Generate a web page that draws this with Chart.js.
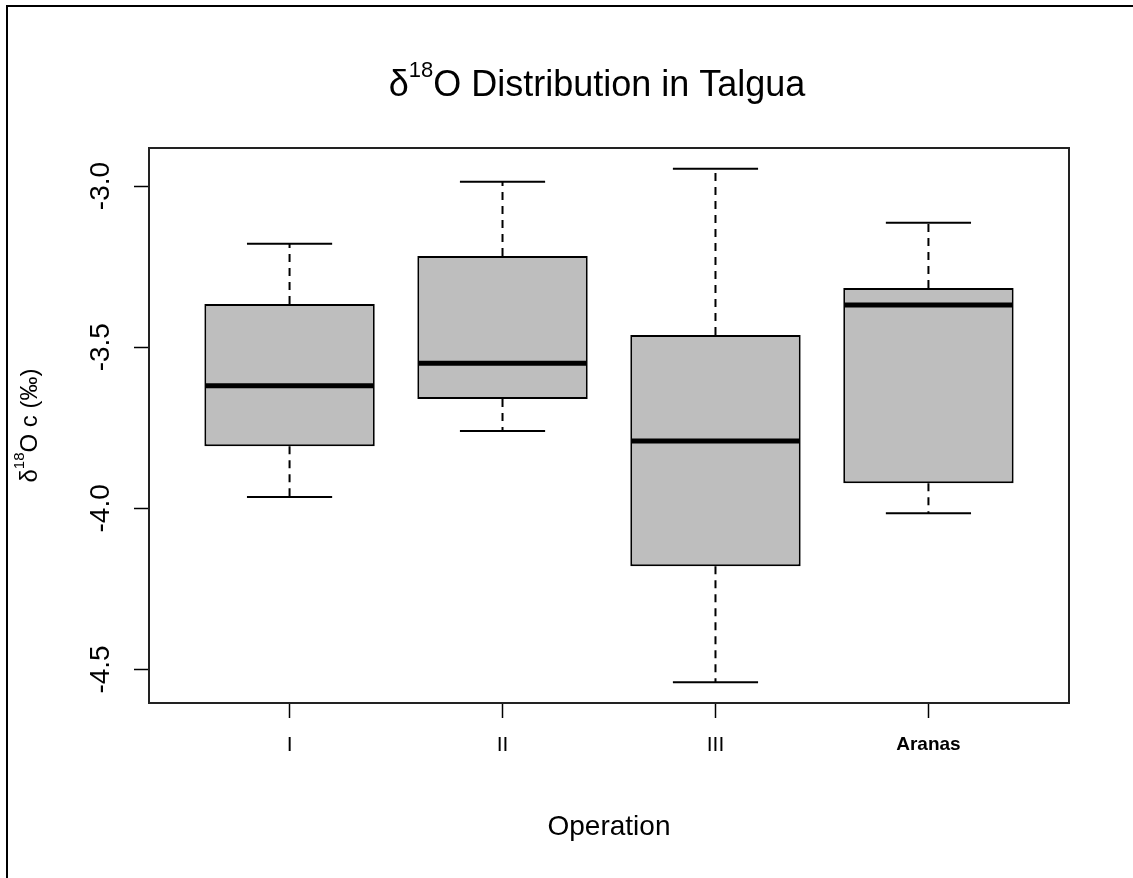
<!DOCTYPE html>
<html>
<head>
<meta charset="utf-8">
<title>δ18O Distribution in Talgua</title>
<script src="https://cdn.jsdelivr.net/npm/chart.js@4.4.0/dist/chart.umd.min.js"></script>
<style>
  html, body { margin: 0; padding: 0; background: #fff; }
  #wrap { width: 1133px; height: 878px; }
  canvas { display: block; }
</style>
</head>
<body>
<div id="wrap"><canvas id="chart" width="1133" height="878"></canvas></div>
<script>
// Five-number summaries of δ18O (‰) per excavation operation
const operations   = ['I', 'II', 'III', 'Aranas'];
const positions    = [1, 2, 3, 4];
const whiskerHigh  = [-3.179, -2.987, -2.946, -3.114];
const upperQuart   = [-3.366, -3.217, -3.462, -3.316];
const medians      = [-3.620, -3.550, -3.791, -3.369];
const lowerQuart   = [-3.807, -3.661, -4.180, -3.922];
const whiskerLow   = [-3.965, -3.760, -4.540, -4.015];

// Axis setup
const yTicks  = [-4.5, -4.0, -3.5, -3.0];
const yLimits = [-4.604, -2.882];
const xLimits = [0.34, 4.66];

// Text (superscripts marked with sup:true)
const titleParts  = [{ t: 'δ' }, { t: '18', sup: true }, { t: 'O Distribution in Talgua' }];
const yTitleParts = [{ t: 'δ' }, { t: '18', sup: true }, { t: 'O c (‰)' }];
const xTitle = 'Operation';

const FAMILY = "'Liberation Sans', Arial, sans-serif";

function drawRich(ctx, parts, size, cx, cy) {
  const supSize = Math.round(size * 0.62);
  let total = 0;
  const widths = parts.map(p => {
    ctx.font = (p.sup ? supSize : size) + 'px ' + FAMILY;
    const w = ctx.measureText(p.t).width;
    total += w;
    return w;
  });
  let x = cx - total / 2;
  ctx.textBaseline = 'middle';
  ctx.textAlign = 'left';
  parts.forEach((p, i) => {
    ctx.font = (p.sup ? supSize : size) + 'px ' + FAMILY;
    ctx.fillText(p.t, x, p.sup ? cy - size * 0.42 : cy);
    x += widths[i];
  });
}

const decorations = {
  id: 'decorations',
  beforeDraw(chart) {
    const ctx = chart.ctx;
    ctx.save();
    ctx.fillStyle = '#fff';
    ctx.fillRect(0, 0, chart.width, chart.height);
    // outer frame (top and left edges)
    ctx.strokeStyle = '#000';
    ctx.lineWidth = 2;
    ctx.beginPath();
    ctx.moveTo(7, chart.height);
    ctx.lineTo(7, 6);
    ctx.lineTo(chart.width, 6);
    ctx.stroke();
    ctx.restore();
  },
  afterDatasetsDraw(chart) {
    const ctx = chart.ctx;
    const xs = chart.scales.x, ys = chart.scales.y;
    ctx.save();
    ctx.strokeStyle = '#000';
    positions.forEach((p, i) => {
      const xc = xs.getPixelForValue(p);
      const boxHalf = xs.getPixelForValue(p + 0.4) - xc;
      const capHalf = xs.getPixelForValue(p + 0.2) - xc;
      const yHi = ys.getPixelForValue(whiskerHigh[i]);
      const yQ3 = ys.getPixelForValue(upperQuart[i]);
      const yMed = ys.getPixelForValue(medians[i]);
      const yQ1 = ys.getPixelForValue(lowerQuart[i]);
      const yLo = ys.getPixelForValue(whiskerLow[i]);
      // dashed whiskers
      ctx.lineWidth = 2;
      ctx.setLineDash([8, 6]);
      ctx.beginPath();
      ctx.moveTo(xc, yQ3); ctx.lineTo(xc, yHi);
      ctx.moveTo(xc, yQ1); ctx.lineTo(xc, yLo);
      ctx.stroke();
      // whisker caps
      ctx.setLineDash([]);
      ctx.beginPath();
      ctx.moveTo(xc - capHalf, yHi); ctx.lineTo(xc + capHalf, yHi);
      ctx.moveTo(xc - capHalf, yLo); ctx.lineTo(xc + capHalf, yLo);
      ctx.stroke();
      // median
      ctx.lineWidth = 5;
      ctx.beginPath();
      ctx.moveTo(xc - boxHalf + 1, yMed); ctx.lineTo(xc + boxHalf - 1, yMed);
      ctx.stroke();
    });
    ctx.restore();
  },
  afterDraw(chart) {
    const ctx = chart.ctx;
    const a = chart.chartArea;
    ctx.save();
    ctx.strokeStyle = '#222';
    ctx.lineWidth = 2;
    ctx.strokeRect(a.left, a.top, a.right - a.left, a.bottom - a.top);
    ctx.fillStyle = '#000';
    // main title
    drawRich(ctx, titleParts, 36, 597, 86);
    // y-axis title, rotated
    ctx.translate(30, (a.top + a.bottom) / 2);
    ctx.rotate(-Math.PI / 2);
    drawRich(ctx, yTitleParts, 24, 0, 0);
    ctx.restore();
  }
};

new Chart(document.getElementById('chart'), {
  type: 'bar',
  data: {
    datasets: [{
      label: 'δ18O',
      data: positions.map((p, i) => ({ x: p, y: [lowerQuart[i], upperQuart[i]] })),
      backgroundColor: '#BEBEBE',
      borderColor: '#000',
      borderWidth: 2,
      borderSkipped: false,
      categoryPercentage: 0.8,
      barPercentage: 1.0
    }]
  },
  options: {
    responsive: false,
    animation: false,
    devicePixelRatio: 1,
    layout: { padding: { top: 148, right: 64, left: 0, bottom: 0 } },
    plugins: {
      legend: { display: false },
      tooltip: { enabled: false },
      title: { display: false }
    },
    scales: {
      x: {
        type: 'linear',
        offset: false,
        min: xLimits[0],
        max: xLimits[1],
        afterBuildTicks: s => { s.ticks = positions.map(v => ({ value: v })); },
        afterFit: s => { s.height = 175; },
        ticks: {
          autoSkip: false,
          maxRotation: 0,
          padding: 15,
          color: '#000',
          callback: v => operations[positions.indexOf(v)],
          font: ctx => ctx.index === 3
            ? { family: FAMILY, size: 19, weight: 'bold' }
            : { family: FAMILY, size: 21 }
        },
        grid: { offset: false, drawOnChartArea: false, drawTicks: true, tickLength: 15, color: '#000', tickWidth: 1.5 },
        border: { display: true, color: '#222', width: 2 },
        title: {
          display: true,
          text: xTitle,
          color: '#000',
          font: { family: FAMILY, size: 28 },
          padding: { top: 0, bottom: 34 }
        }
      },
      y: {
        type: 'linear',
        min: yLimits[0],
        max: yLimits[1],
        afterBuildTicks: s => { s.ticks = yTicks.map(v => ({ value: v })); },
        afterFit: s => { s.width = 149; },
        ticks: {
          minRotation: 90,
          maxRotation: 90,
          crossAlign: 'center',
          padding: 9,
          color: '#000',
          font: { family: FAMILY, size: 28 },
          callback: v => v.toFixed(1)
        },
        grid: { drawOnChartArea: false, drawTicks: true, tickLength: 15, color: '#000', tickWidth: 1.5 },
        border: { display: true, color: '#222', width: 2 }
      }
    }
  },
  plugins: [decorations]
});
</script>
</body>
</html>
